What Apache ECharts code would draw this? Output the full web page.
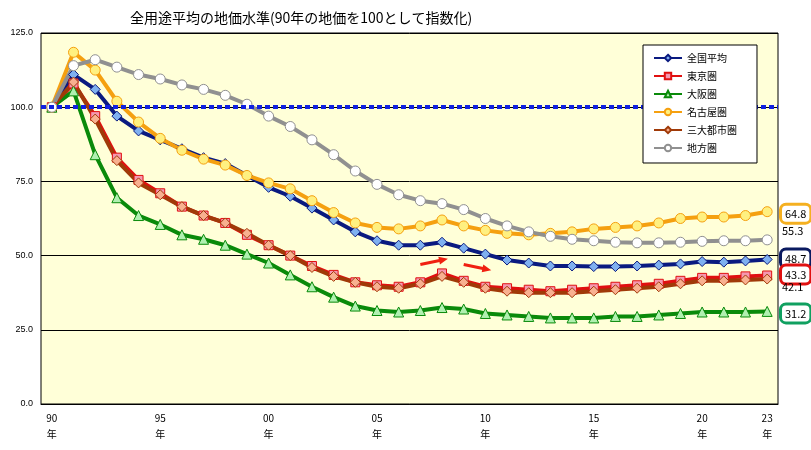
<!DOCTYPE html>
<html><head><meta charset="utf-8">
<script src="https://cdn.jsdelivr.net/npm/echarts@6/dist/echarts.min.js"></script>
<style>html,body{margin:0;padding:0;background:#fff}#chart{width:811px;height:450px}</style>
</head><body><div id="chart"></div>
<script>
var years = [];
for (var y = 1990; y <= 2023; y++) years.push(String(y % 100).padStart(2, '0'));
var labelYears = ['90', '95', '00', '05', '10', '15', '20', '23'];
var zenkoku = [100, 111, 106, 97, 92, 89, 86, 83, 81, 77, 73, 70, 66, 62, 58, 55, 53.5, 53.5, 54.5, 52.5, 50.5, 48.5, 47.5, 46.5, 46.5, 46.3, 46.3, 46.5, 46.8, 47.2, 48, 47.8, 48.2, 48.7];
var tokyo = [100, 108, 97, 83, 75.5, 71, 66.5, 63.5, 61, 57, 53.5, 50, 46.5, 43.5, 41, 40, 39.5, 41, 44, 41.5, 39.5, 39, 38.5, 38, 38.5, 39, 39.5, 40, 40.5, 41.5, 42.5, 42.5, 43, 43.3];
var osaka = [100, 105.5, 84, 69.5, 63.5, 60.5, 57, 55.5, 53.5, 50.5, 47.5, 43.5, 39.5, 36, 33, 31.5, 31, 31.5, 32.5, 32, 30.5, 30, 29.5, 29, 29, 29, 29.5, 29.5, 30, 30.5, 31, 31, 31, 31.2];
var nagoya = [100, 118.5, 112.5, 102, 95, 89.5, 85.5, 82.5, 80.5, 77, 74.5, 72.5, 68.5, 64.5, 61, 59.5, 59, 60, 62, 60, 58.5, 57.5, 57, 57.5, 58, 59, 59.5, 60, 61, 62.5, 63, 63, 63.5, 64.8];
var sandai = [100, 108.5, 96, 82, 74.5, 70.5, 66.5, 63.5, 61, 57.5, 53.5, 50, 46, 43, 41, 39.5, 39, 40.5, 43, 41, 39, 38, 37.5, 37.5, 37.5, 38, 38.5, 39, 39.5, 40.5, 41.5, 41.5, 41.8, 42.1];
var chiho = [100, 114, 116, 113.5, 111, 109.5, 107.5, 106, 104, 101, 97, 93.5, 89, 84, 78.5, 74, 70.5, 68.5, 67.5, 65.5, 62.5, 60, 58, 56.5, 55.5, 55, 54.5, 54.3, 54.3, 54.5, 54.8, 55, 55, 55.3];

var font = '"Noto Sans CJK JP", sans-serif';
function mk(name, data, color, symbol, fill, size) {
    return {
        name: name, type: 'line', data: data, symbol: symbol, symbolSize: size,
        lineStyle: { color: color, width: 4 },
        itemStyle: { color: fill, borderColor: color, borderWidth: 1 },
        color: color, z: 3
    };
}
var chart = echarts.init(document.getElementById('chart'));
var series = [
    mk('全国平均', zenkoku, '#0a1a80', 'diamond', '#7fb0f0', 10),
    mk('東京圏', tokyo, '#e01010', 'rect', '#f598b0', 9),
    mk('大阪圏', osaka, '#0a8a0a', 'triangle', '#b0f0b0', 10),
    mk('名古屋圏', nagoya, '#f5a010', 'circle', '#fff080', 10),
    mk('三大都市圏', sandai, '#a03a08', 'diamond', '#f8b090', 10),
    mk('地方圏', chiho, '#909090', 'circle', '#ffffff', 10)
];
series[0].markLine = {
    silent: true, symbol: 'none', label: { show: false },
    lineStyle: { color: '#1020e0', type: [5, 3], width: 4 },
    data: [{ yAxis: 100 }]
};
chart.setOption({
    animation: false,
    title: { text: '全用途平均の地価水準(90年の地価を100として指数化)', left: 125, top: 6,
        textStyle: { fontFamily: font, fontSize: 14, fontWeight: 'normal', color: '#000' } },
    grid: { left: 41, right: 33, top: 33, bottom: 46, show: true, backgroundColor: '#ffffd8', borderColor: '#000', borderWidth: 1 },
    legend: {
        orient: 'vertical', left: 643, top: 45, itemGap: 8, itemWidth: 28, itemHeight: 8, z: 20,
        backgroundColor: '#fff', borderColor: '#000', borderWidth: 1, padding: [8, 20, 10, 10],
        textStyle: { fontFamily: font, fontSize: 10, color: '#000' },
        data: series.map(function (s) { return s.name; })
    },
    xAxis: {
        type: 'category', data: years, boundaryGap: true,
        axisLine: { lineStyle: { color: '#000' } }, axisTick: { show: false },
        axisLabel: {
            interval: 0, fontFamily: font, fontSize: 10, color: '#000', margin: 6, lineHeight: 16,
            formatter: function (v) { return labelYears.indexOf(v) >= 0 ? v + '\n年' : ''; }
        }
    },
    yAxis: {
        type: 'value', min: 0, max: 125, interval: 25,
        axisLine: { show: false }, axisTick: { show: false },
        axisLabel: { fontSize: 9, color: '#000', formatter: function (v) { return v.toFixed(1); } },
        splitLine: { lineStyle: { color: '#000', width: 1 } }
    },
    series: series
});

// right-side end values and arrows
var ends = [
    { v: nagoya[33], c: '#f5b020', box: true, d: 0 },
    { v: chiho[33], c: null, d: -6 },
    { v: zenkoku[33], c: '#0a1a60', box: true, d: -3 },
    { v: tokyo[33], c: '#e01010', box: true, d: -3 },
    { v: sandai[33], c: null, d: 11 },
    { v: osaka[33], c: '#10a060', box: true, d: 0 }
];
var g = [];
ends.forEach(function (e) {
    var py = chart.convertToPixel({ yAxisIndex: 0 }, e.v) + e.d;
    g.push({
        type: 'text', left: e.box ? 779 : 782, top: py - 9, z: 10,
        style: {
            text: e.v.toFixed(1), font: '11px ' + font, fill: '#000',
            backgroundColor: e.box ? '#fff' : null, borderColor: e.c, borderWidth: e.box ? 3 : 0,
            borderRadius: 4, padding: [3, 3, 2, 3]
        }
    });
});
function arrow(x0, y0, x1, y1) {
    var p0 = chart.convertToPixel({ xAxisIndex: 0, yAxisIndex: 0 }, [x0, y0]);
    var p1 = chart.convertToPixel({ xAxisIndex: 0, yAxisIndex: 0 }, [x1, y1]);
    var ang = Math.atan2(p1[1] - p0[1], p1[0] - p0[0]);
    g.push({ type: 'line', shape: { x1: p0[0], y1: p0[1], x2: p1[0], y2: p1[1] }, style: { stroke: '#f02010', lineWidth: 3 }, z: 10 });
    g.push({ type: 'polygon', z: 10, shape: { points: [
        [p1[0] + 6 * Math.cos(ang), p1[1] + 6 * Math.sin(ang)],
        [p1[0] + 5 * Math.cos(ang + 2.2), p1[1] + 5 * Math.sin(ang + 2.2)],
        [p1[0] + 5 * Math.cos(ang - 2.2), p1[1] + 5 * Math.sin(ang - 2.2)]
    ] }, style: { fill: '#f02010' } });
}
arrow('07', 47, '08', 48.5);
arrow('09', 47, '10', 45.5);
chart.setOption({ graphic: g });
</script></body></html>
